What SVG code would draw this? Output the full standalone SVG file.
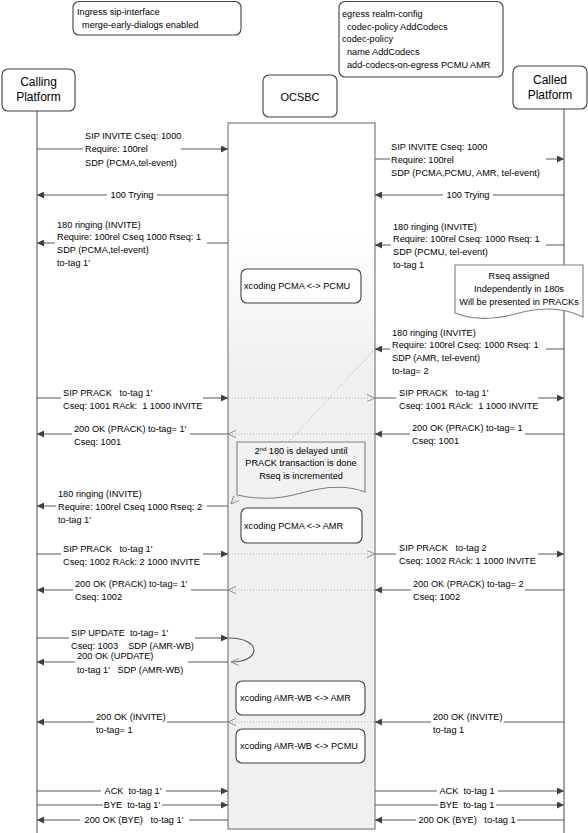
<svg xmlns="http://www.w3.org/2000/svg" width="588" height="833" viewBox="0 0 588 833">
<defs>
<style>
text{font-family:"Liberation Sans",Arial,sans-serif;fill:#000;white-space:pre}
.t{font-size:9.2px}
.h{font-size:12px}
.box{fill:#fff;stroke:#404040;stroke-width:1.1}
.life{stroke:#595959;stroke-width:1.1;fill:none}
.m{stroke:#595959;stroke-width:1.1;fill:none;marker-end:url(#a)}
.d{stroke:#a6a6a6;stroke-width:1;stroke-dasharray:1 2;fill:none;marker-end:url(#o)}
.note{stroke:#7f7f7f;stroke-width:1.1}
</style>
<marker id="a" viewBox="0 0 10 10" refX="10" refY="5" markerWidth="9" markerHeight="7" orient="auto" markerUnits="userSpaceOnUse"><path d="M0,0 L10,5 L0,10 z" fill="#404040"/></marker>
<marker id="o" viewBox="0 0 10 10" refX="10" refY="5" markerWidth="9" markerHeight="8" orient="auto" markerUnits="userSpaceOnUse"><path d="M0,0.5 L10,5 L0,9.5" fill="none" stroke="#8c8c8c" stroke-width="1.2"/></marker>
<linearGradient id="g" gradientUnits="userSpaceOnUse" x1="0" y1="230" x2="0" y2="370"><stop offset="0" stop-color="#ffffff"/><stop offset="1" stop-color="#f0f0f0"/></linearGradient>
</defs>

<g id="lifelines">
<path class="life" d="M37,111 V833"/>
<path class="life" d="M564,109 V833"/>
</g>

<g id="ocsbc-activation">
<rect x="228" y="123" width="147" height="706" fill="url(#g)" stroke="#7f7f7f" stroke-width="1.2"/>
</g>

<g id="connectors">
<path class="m" d="M37,149 H83 M181,149 H228"/>
<path class="m" d="M375,159 H390 M546,159 H564"/>
<path class="m" d="M228,195 H157 M107,195 H37"/>
<path class="m" d="M564,195 H493 M443,195 H375"/>
<path class="m" d="M228,243 H207 M55,243 H37"/>
<path class="m" d="M564,245 H546 M391,245 H375"/>
<path class="m" d="M564,349 H546 M390,349 H375"/>
<path class="d" d="M373,351 L231,504"/>
<path class="m" d="M37,398 H61 M203,398 H228"/>
<path class="d" d="M229,398 H375"/>
<path class="m" d="M375,398 H396 M538,398 H564"/>
<path class="m" d="M564,434 H525 M410,434 H375"/>
<path class="d" d="M374,434 H228"/>
<path class="m" d="M228,434 H190 M72,434 H37"/>
<path class="m" d="M228,506 H207 M56,506 H37"/>
<path class="m" d="M37,554 H61 M203,554 H228"/>
<path class="d" d="M229,554 H375"/>
<path class="m" d="M375,554 H396 M538,554 H564"/>
<path class="m" d="M564,590 H525 M411,590 H375"/>
<path class="d" d="M374,590 H228"/>
<path class="m" d="M228,590 H191 M73,590 H37"/>
<path class="m" d="M37,638 H69 M195,638 H228"/>
<path d="M229,638 C262,638 262,662 231,662" fill="none" stroke="#595959" stroke-width="1.1" marker-end="url(#o)"/>
<path class="m" d="M228,662 H188 M75,662 H37"/>
<path class="m" d="M564,722 H504 M431,722 H375"/>
<path class="d" d="M374,722 H228"/>
<path class="m" d="M228,722 H167 M94,722 H37"/>
<path class="m" d="M37,791 H101 M166,791 H228"/>
<path class="m" d="M375,791 H437 M498,791 H564"/>
<path class="m" d="M37,805 H103 M162,805 H228"/>
<path class="m" d="M375,805 H438 M496,805 H564"/>
<path class="m" d="M228,820 H189 M80,820 H37"/>
<path class="m" d="M564,820 H517 M416,820 H375"/>
</g>

<g id="labels" class="t">
<text x="85" y="138.5">SIP INVITE Cseq: 1000<tspan x="85" dy="13.5">Require: 100rel</tspan><tspan x="85" dy="13.5">SDP (PCMA,tel-event)</tspan></text>
<text x="391" y="149.5">SIP INVITE Cseq: 1000<tspan x="391" dy="13">Require: 100rel</tspan><tspan x="391" dy="13">SDP (PCMA,PCMU, AMR, tel-event)</tspan></text>
<text x="132" y="198.3" text-anchor="middle">100 Trying</text>
<text x="468" y="198.3" text-anchor="middle">100 Trying</text>
<text x="57" y="227.5">180 ringing (INVITE)<tspan x="57" dy="12.8">Require: 100rel Cseq 1000 Rseq: 1</tspan><tspan x="57" dy="12.5">SDP (PCMA,tel-event)</tspan><tspan x="57" dy="13">to-tag 1'</tspan></text>
<text x="393" y="229.5">180 ringing (INVITE)<tspan x="393" dy="12.6">Require: 100rel Cseq: 1000 Rseq: 1</tspan><tspan x="393" dy="12.6">SDP (PCMU, tel-event)</tspan><tspan x="393" dy="12.8">to-tag 1</tspan></text>
<text x="392" y="335.5">180 ringing (INVITE)<tspan x="392" dy="12.8">Require: 100rel Cseq: 1000 Rseq: 1</tspan><tspan x="392" dy="12.5">SDP (AMR, tel-event)</tspan><tspan x="392" dy="12.8">to-tag= 2</tspan></text>
<text x="63" y="395.5">SIP PRACK &#160;&#160;to-tag 1'<tspan x="63" dy="13">Cseq: 1001 RAck: &#160;1 1000 INVITE</tspan></text>
<text x="399" y="395.5">SIP PRACK &#160;&#160;to-tag 1'<tspan x="399" dy="13">Cseq: 1001 RAck: &#160;1 1000 INVITE</tspan></text>
<text x="74" y="431.5">200 OK (PRACK) to-tag= 1'<tspan x="74" dy="13">Cseq: 1001</tspan></text>
<text x="412" y="430.5">200 OK (PRACK) to-tag= 1<tspan x="412" dy="13">Cseq: 1001</tspan></text>
<text x="58" y="496.5">180 ringing (INVITE)<tspan x="58" dy="13">Require: 100rel Cseq 1000 Rseq: 2</tspan><tspan x="58" dy="13">to-tag 1'</tspan></text>
<text x="63" y="551.5">SIP PRACK &#160;&#160;to-tag 1'<tspan x="63" dy="13">Cseq: 1002 RAck: 2 1000 INVITE</tspan></text>
<text x="399" y="550.5">SIP PRACK &#160;&#160;to-tag 2<tspan x="399" dy="13.5">Cseq: 1002 RAck: 1 1000 INVITE</tspan></text>
<text x="75" y="586.5">200 OK (PRACK) to-tag= 1'<tspan x="75" dy="13">Cseq: 1002</tspan></text>
<text x="413" y="586.5">200 OK (PRACK) to-tag= 2<tspan x="413" dy="13.5">Cseq: 1002</tspan></text>
<text x="71" y="635.5">SIP UPDATE &#160;to-tag= 1'<tspan x="71" dy="13">Cseq: 1003 &#160;&#160;&#160;SDP (AMR-WB)</tspan></text>
<text x="77" y="658.5">200 OK (UPDATE)<tspan x="77" dy="14">to-tag 1' &#160;&#160;SDP (AMR-WB)</tspan></text>
<text x="96" y="719.5">200 OK (INVITE)<tspan x="96" dy="13">to-tag= 1</tspan></text>
<text x="433" y="719.5">200 OK (INVITE)<tspan x="433" dy="13">to-tag 1</tspan></text>
<text x="133" y="794.3" text-anchor="middle">ACK &#160;to-tag 1'</text>
<text x="467" y="794.3" text-anchor="middle">ACK &#160;to-tag 1</text>
<text x="132" y="808.3" text-anchor="middle">BYE &#160;to-tag 1'</text>
<text x="467" y="808.3" text-anchor="middle">BYE &#160;to-tag 1</text>
<text x="134" y="823.3" text-anchor="middle">200 OK (BYE) &#160;&#160;to-tag 1'</text>
<text x="467" y="823.3" text-anchor="middle">200 OK (BYE) &#160;&#160;to-tag 1</text>
</g>

<g id="ingress-note">
<rect class="box" x="73" y="1.5" width="168" height="33.5" rx="6"/>
<text class="t" x="77" y="15">Ingress sip-interface<tspan x="82" dy="12.5">merge-early-dialogs enabled</tspan></text>
</g>

<g id="egress-note">
<rect class="box" x="339" y="1.5" width="164" height="75.5" rx="6"/>
<text class="t" x="342" y="17">egress realm-config<tspan x="347" dy="12.7">codec-policy AddCodecs</tspan><tspan x="342" dy="12.7">codec-policy</tspan><tspan x="347" dy="12.7">name AddCodecs</tspan><tspan x="347" dy="12.7">add-codecs-on-egress PCMU AMR</tspan></text>
</g>

<g id="calling-platform">
<rect class="box" x="2" y="69" width="73" height="42" rx="6"/>
<text class="h" x="38.5" y="85.5" text-anchor="middle">Calling<tspan x="38.5" dy="15.5">Platform</tspan></text>
</g>

<g id="ocsbc">
<rect class="box" x="263" y="75" width="74" height="42" rx="6"/>
<text x="300" y="100.5" font-size="11" text-anchor="middle">OCSBC</text>
</g>

<g id="called-platform">
<rect class="box" x="513" y="66" width="74" height="43" rx="6"/>
<text class="h" x="550" y="83.5" text-anchor="middle">Called<tspan x="550" dy="15.5">Platform</tspan></text>
</g>

<g id="xcoding-1">
<rect class="box" x="241" y="269" width="120" height="34" rx="6"/>
<text class="t" x="244" y="289.3">xcoding PCMA &lt;-&gt; PCMU</text>
</g>

<g id="rseq-note">
<path class="note" fill="#ffffff" d="M455,265 H583 V317 C567,309 546,306 519,313 C495,320 475,321 455,313 Z"/>
<text class="t" x="519" y="279" text-anchor="middle">Rseq assigned<tspan x="519" dy="13">Independently in 180s</tspan><tspan x="519" dy="13">Will be presented in PRACKs</tspan></text>
</g>

<g id="delay-note">
<path class="note" fill="#f2f2f2" d="M237,442 H365 V492 C350,486 330,485 301,493 C280,499 258,500 237,495 Z"/>
<text class="t" x="301" y="454.3" text-anchor="middle">2<tspan font-size="6" dy="-3.5">nd</tspan><tspan dy="3.5"> 180 is delayed until</tspan></text>
<text class="t" x="301" y="466.3" text-anchor="middle">PRACK transaction is done</text>
<text class="t" x="301" y="478.8" text-anchor="middle">Rseq is incremented</text>
</g>

<g id="xcoding-2">
<rect class="box" x="241" y="508" width="121" height="35" rx="6"/>
<text class="t" x="244" y="529">xcoding PCMA &lt;-&gt; AMR</text>
</g>

<g id="xcoding-3">
<rect class="box" x="236" y="681" width="129" height="34" rx="6"/>
<text class="t" x="240" y="701.3">xcoding AMR-WB &lt;-&gt; AMR</text>
</g>

<g id="xcoding-4">
<rect class="box" x="236" y="729" width="129" height="34" rx="6"/>
<text class="t" x="240" y="749.3">xcoding AMR-WB &lt;-&gt; PCMU</text>
</g>
</svg>
